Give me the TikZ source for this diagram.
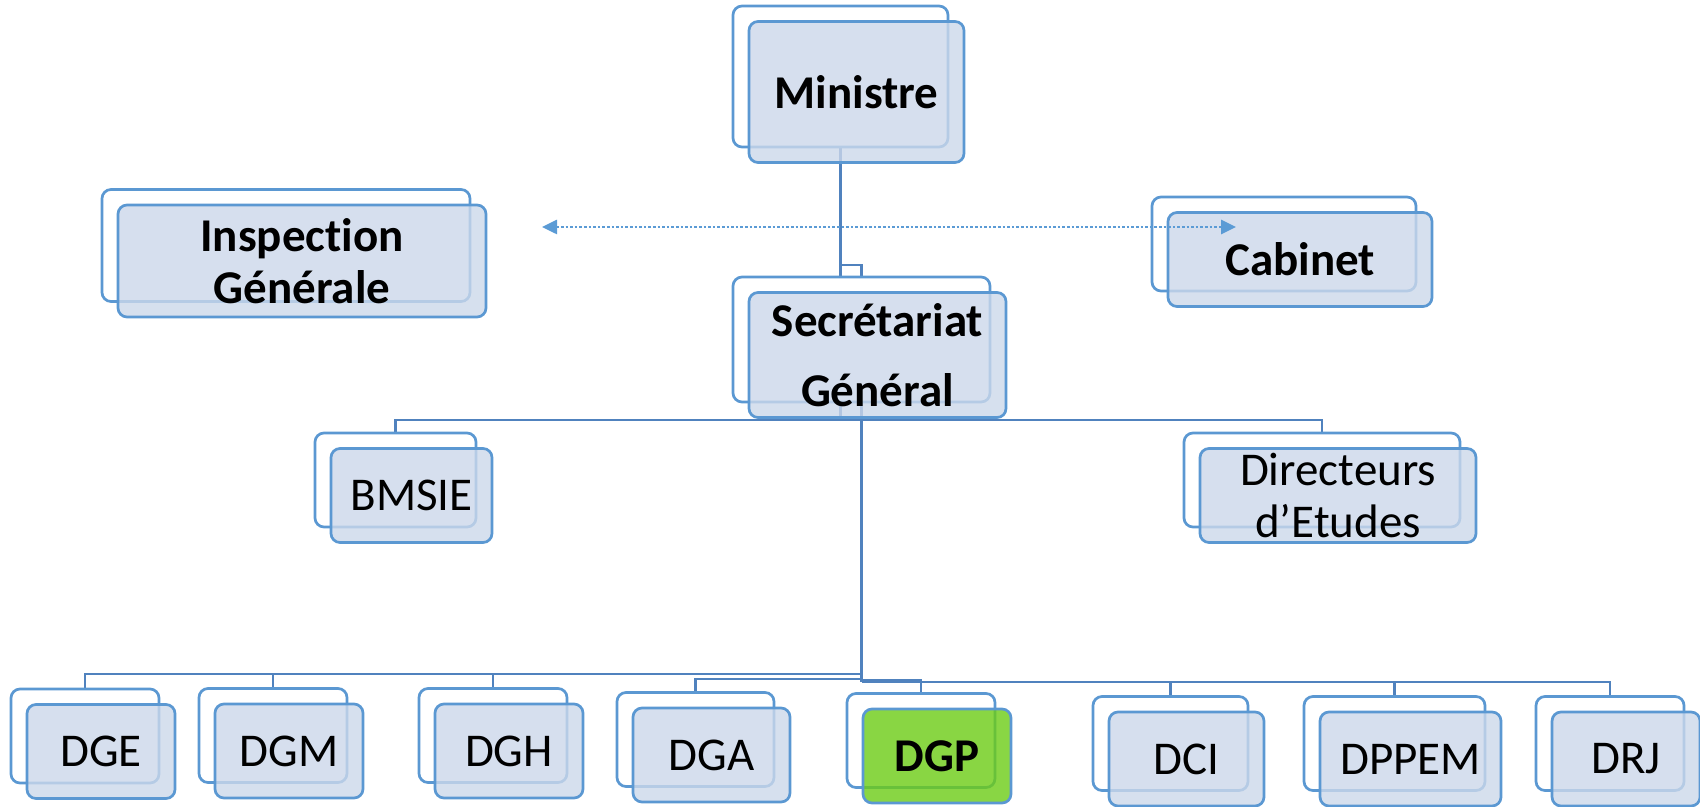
\documentclass[tikz,border=0pt]{standalone}
\usepackage{fontspec}
\setmainfont{Carlito}[Ligatures={NoCommon}]
\usetikzlibrary{arrows.meta,backgrounds}

\definecolor{boxline}{RGB}{91,152,210}
\definecolor{connline}{RGB}{80,130,190}
\definecolor{boxfill}{RGB}{204,216,234}
\definecolor{dgpfill}{RGB}{108,204,21}
\definecolor{arrowline}{RGB}{91,155,213}

\tikzset{
    back/.style={draw=boxline, line width=1.35pt, rounded corners=4.5pt, fill=white, inner sep=0pt},
    front/.style={draw=boxline, line width=1.35pt, rounded corners=4.5pt, fill=boxfill, fill opacity=0.8,
        text opacity=1, inner sep=0pt, align=center, xshift=8pt, yshift=-7.75pt,
        font=\fontsize{23.5pt}{26pt}\selectfont},
    strong/.style={font=\fontsize{23.5pt}{26pt}\selectfont\bfseries},
    conn/.style={draw=connline, line width=1.3pt},
}

\begin{document}
\begin{tikzpicture}[x=0.5pt, y=-0.5pt]
        \useasboundingbox (0,0) rectangle (1700,807);

        % top
        \node[back, minimum width=107.5pt, minimum height=70.5pt] (min-b) at (840.5,76.5) {};
        \node[front, strong, minimum width=107.5pt, minimum height=70.5pt] (min) at (min-b) {Ministre};

        \node[back, minimum width=184pt, minimum height=56pt] (ig-b) at (286,245.5) {};
        \node[front, strong, minimum width=184pt, minimum height=56pt] (ig) at (ig-b) {Inspection\\Générale};

        \node[back, minimum width=132pt, minimum height=47pt] (cab-b) at (1284,244) {};
        \node[front, strong, minimum width=132pt, minimum height=47pt] (cab) at (cab-b) {Cabinet};

        \node[back, minimum width=128.5pt, minimum height=62.5pt] (sg-b) at (861.5,339.5) {};
        \node[front, strong, minimum width=128.5pt, minimum height=62.5pt] (sg) at (sg-b) {Secrétariat\\[9pt]Général};

        % middle
        \node[back, minimum width=80.5pt, minimum height=47pt] (bmsie-b) at (395.5,480) {};
        \node[front, minimum width=80.5pt, minimum height=47pt] (bmsie) at (bmsie-b) {BMSIE};

        \node[back, minimum width=138pt, minimum height=47pt] (de-b) at (1322,480) {};
        \node[front, minimum width=138pt, minimum height=47pt] (de) at (de-b) {Directeurs\\d’Etudes};

        % bottom
        \node[back, minimum width=74pt, minimum height=47pt] (dge-b) at (85,736) {};
        \node[front, minimum width=74pt, minimum height=47pt] (dge) at (dge-b) {DGE};

        \node[back, minimum width=74pt, minimum height=47pt] (dgm-b) at (273,735.5) {};
        \node[front, minimum width=74pt, minimum height=47pt] (dgm) at (dgm-b) {DGM};

        \node[back, minimum width=74pt, minimum height=47pt] (dgh-b) at (493,735.5) {};
        \node[front, minimum width=74pt, minimum height=47pt] (dgh) at (dgh-b) {DGH};

        \node[back, minimum width=78.5pt, minimum height=47pt] (dga-b) at (695.5,739.5) {};
        \node[front, minimum width=78.5pt, minimum height=47pt] (dga) at (dga-b) {DGA};

        \node[back, minimum width=74pt, minimum height=47pt] (dgp-b) at (921,740.5) {};
        \node[front, strong, fill=dgpfill, minimum width=74pt, minimum height=47pt] (dgp) at (dgp-b) {DGP};

        \node[back, minimum width=77.5pt, minimum height=47pt] (dci-b) at (1170.5,743.5) {};
        \node[front, minimum width=77.5pt, minimum height=47pt] (dci) at (dci-b) {DCI};

        \node[back, minimum width=90.5pt, minimum height=47pt] (dppem-b) at (1394.5,743.5) {};
        \node[front, minimum width=90.5pt, minimum height=47pt] (dppem) at (dppem-b) {DPPEM};

        \node[back, minimum width=74pt, minimum height=47pt] (drj-b) at (1610,743.5) {};
        \node[front, minimum width=74pt, minimum height=47pt] (drj) at (drj-b) {DRJ};

        % connectors
        \coordinate (jog) at (0,265);
        \coordinate (bus1) at (0,420);
        \coordinate (busL) at (0,674);
        \coordinate (busA) at (0,679);
        \coordinate (busP) at (0,680);
        \coordinate (busR) at (0,682);

        \begin{scope}[on background layer]
            \draw [conn] (min-b.south) -- (min-b.south |- sg-b.north);
            \draw [conn] (min-b.south |- jog) -| (sg-b.north);
            \draw [conn] (min-b.south |- sg-b.south) -- (min-b.south |- bus1);
            \draw [conn] (sg-b.south) -- (sg-b.south |- busR);
            \draw [conn] (bmsie-b.north) |- (de-b.north |- bus1) -- (de-b.north);

            \draw [conn] (dge-b.north) |- (sg-b.south |- busL);
            \draw [conn] (dgm-b.north) -- (dgm-b.north |- busL);
            \draw [conn] (dgh-b.north) -- (dgh-b.north |- busL);
            \draw [conn] (dga-b.north) |- (sg-b.south |- busA);
            \draw [conn] (dgp-b.north) |- (sg-b.south |- busP);
            \draw [conn] (sg-b.south |- busR) -| (drj-b.north);
            \draw [conn] (dci-b.north) -- (dci-b.north |- busR);
            \draw [conn] (dppem-b.north) -- (dppem-b.north |- busR);
        \end{scope}

        \coordinate (arrL) at (542,227);
        \coordinate (arrR) at (1236,227);
        \draw [arrowline, line width=1.3pt, dash pattern=on 1.3pt off 1pt,
            {Triangle[width=7pt,length=7.5pt]}-{Triangle[width=7pt,length=7.5pt]}] (arrL) -- (arrR);
    \end{tikzpicture}
\end{document}
